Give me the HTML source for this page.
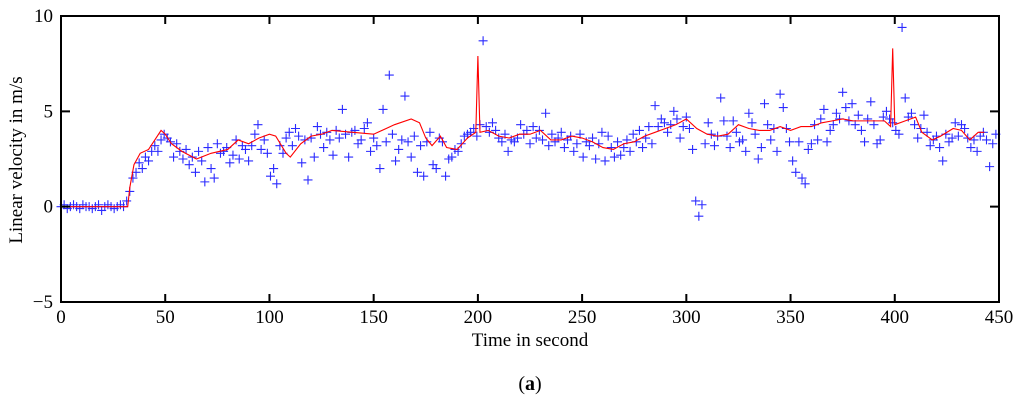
<!DOCTYPE html>
<html><head><meta charset="utf-8"><style>
body{margin:0;background:#fff;}
svg{display:block;font-family:"Liberation Serif",serif;}
</style></head><body>
<svg id="chart" width="1024" height="405" viewBox="0 0 1024 405">
<g id="marks"></g>
<g id="axes"></g>
<text x="0" y="0" transform="translate(22,160) rotate(-90)" text-anchor="middle" font-size="19">Linear velocity in m/s</text>
<text x="530" y="346" text-anchor="middle" font-size="19">Time in second</text>
<text x="530" y="390" text-anchor="middle" font-size="20">(<tspan font-weight="bold">a</tspan>)</text>
</svg>
<script>
const xTicks=[0,50,100,150,200,250,300,350,400,450];
const yTicks=[-5,0,5,10];
const lineT=[0,32,33,35,38,42,45,48,50,53,58,65,72,80,85,90,95,100,103,108,110,115,120,125,130,140,150,160,168,172,175,178,182,185,190,195,199,200,201,205,210,215,220,225,230,235,240,245,250,255,260,265,270,275,280,285,290,295,300,305,310,315,320,325,330,335,340,345,350,355,360,365,370,375,380,385,390,395,398,399,400,405,410,413,418,422,428,432,436,440,443];
const lineV=[0,0,1.0,2.2,2.8,3.0,3.5,4.0,3.8,3.3,2.9,2.5,2.8,3.0,3.5,3.3,3.6,3.8,3.7,2.8,2.6,3.3,3.7,3.8,4.0,3.9,3.8,4.3,4.6,4.4,3.6,3.2,3.7,3.1,3.0,3.6,3.9,7.9,3.9,4.0,3.7,3.6,3.8,3.8,4.0,3.5,3.5,3.7,3.6,3.4,3.1,3.0,3.3,3.4,3.7,3.9,4.1,4.3,4.6,4.1,3.8,3.7,3.8,4.3,4.1,4.0,4.0,4.2,4.0,4.2,4.2,4.4,4.5,4.6,4.5,4.5,4.5,4.5,4.2,8.3,4.3,4.5,4.7,3.9,3.5,3.7,4.1,4.0,3.5,3.9,3.9];
const sampleStep=1.5;
const ptV=[0,0.1,-0.1,0,0.1,0,-0.1,0.1,0,0,
-0.1,0,0.1,-0.2,0,0.1,0,-0.1,0,0.1,
0,0.3,0.8,1.5,1.8,2.3,2.0,2.6,2.4,2.9,
3.2,2.9,3.5,3.8,3.6,3.4,2.6,3.3,2.9,2.5,
3.0,2.2,2.6,1.8,2.9,2.4,1.3,3.1,2.0,1.5,
3.3,2.8,2.9,3.1,2.3,2.7,3.5,2.5,3.2,3.0,
2.4,3.2,3.8,4.3,3.0,3.5,2.8,1.6,2.0,1.2,
3.2,2.8,3.6,3.9,3.2,4.1,3.7,2.3,3.5,1.4,
3.6,2.6,4.2,3.8,3.1,3.9,3.5,2.7,4.0,3.6,
5.1,3.8,2.6,3.9,4.0,3.3,3.5,4.1,4.4,2.9,
3.6,3.2,2.0,5.1,3.4,6.9,3.8,2.4,3.0,3.5,
5.8,3.4,2.6,3.7,1.8,3.2,1.6,3.4,3.9,2.2,
2.0,3.6,3.4,1.6,2.5,2.6,3.0,2.9,3.3,3.7,
3.8,3.9,4.1,3.7,4.3,8.7,4.2,3.9,4.4,4.0,
3.6,3.4,3.8,2.9,3.5,3.4,3.6,4.3,3.8,4.0,
3.3,4.2,3.6,4.0,3.5,4.9,3.2,3.8,3.4,3.6,
3.9,3.1,3.5,3.7,2.9,3.3,3.8,2.6,3.4,3.2,
3.6,2.5,3.3,3.9,2.4,3.7,3.1,2.6,3.4,2.7,
3.1,3.5,2.9,3.8,3.4,4.0,3.1,3.6,4.2,3.3,
5.3,4.2,4.6,4.4,3.9,4.3,5.0,4.6,3.6,4.2,
4.7,4.1,3.0,0.3,-0.5,0.1,3.3,4.4,3.8,3.2,
3.7,5.7,4.5,3.7,3.1,4.5,3.9,3.4,3.5,2.9,
4.9,4.4,3.8,2.5,3.1,5.4,4.3,3.5,4.1,2.9,
5.9,5.2,4.1,3.4,2.4,1.8,3.4,1.5,1.2,3.0,
3.3,4.3,3.5,4.6,5.1,3.4,4.0,4.3,4.9,4.6,
6.0,5.2,4.5,5.4,4.3,4.8,4.0,3.4,4.6,5.5,
4.3,3.3,3.5,4.7,5.0,4.6,4.4,4.0,3.8,9.4,
5.7,4.7,4.9,4.3,3.6,4.1,4.8,3.9,3.2,3.5,
3.7,3.1,2.4,3.8,3.4,3.6,4.4,3.7,4.3,4.1,
3.6,3.1,3.5,2.9,3.7,3.9,3.5,2.1,3.3,3.8];
const L=61,R=999,T=16,B=302;
const xs=t=>L+(t-0)/450*(R-L);
const ys=v=>T+(10-v)/15*(B-T);
const NS='http://www.w3.org/2000/svg';
const marks=document.getElementById('marks'),axes=document.getElementById('axes');
function mk(tag,attrs,parent){const e=document.createElementNS(NS,tag);for(const k in attrs)e.setAttribute(k,attrs[k]);parent.appendChild(e);return e;}
let d='';
ptV.forEach((v,i)=>{const x=xs(i*sampleStep),y=ys(v);d+=`M${x-4.5},${y}h9M${x},${y-4.5}v9`;});
const pts=mk('path',{d:d,stroke:'#2a2aff',fill:'none','stroke-width':1.1},marks);


const ln=mk('polyline',{points:lineT.map((t,i)=>xs(t)+','+ys(lineV[i])).join(' '),stroke:'#ff0000',fill:'none','stroke-width':1.1},marks);


const fr=mk('rect',{x:L,y:T,width:R-L,height:B-T,fill:'none',stroke:'#000','stroke-width':2},axes);


xTicks.forEach(t=>{const x=xs(t);
mk('path',{d:`M${x},${B}v-8M${x},${T}v8`,stroke:'#000','stroke-width':2},axes);
const tx=mk('text',{x:x,y:B+21,'text-anchor':'middle','font-size':19},axes);tx.textContent=t;

});
yTicks.forEach(v=>{const y=ys(v);
mk('path',{d:`M${L},${y}h9M${R},${y}h-9`,stroke:'#000','stroke-width':2},axes);
const tx=mk('text',{x:L-8,y:y+6,'text-anchor':'end','font-size':19},axes);tx.textContent=String(v).replace('-','\u2212');

});
</script>
</body></html>
